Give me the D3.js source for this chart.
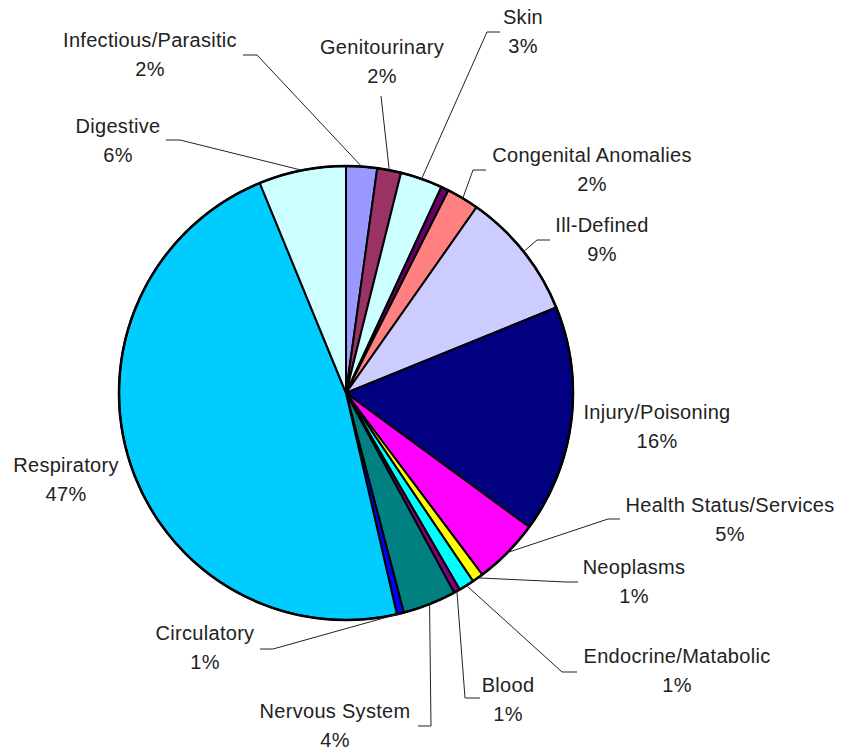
<!DOCTYPE html>
<html>
<head>
<meta charset="utf-8">
<script src="https://cdn.jsdelivr.net/npm/d3@7"></script>
<style>
  body { margin: 0; background: #fff; }
  text { font-family: "Liberation Sans", Arial, sans-serif; font-size: 20px; fill: #222; letter-spacing: 0.3px; }
</style>
</head>
<body>
<div id="chart"></div>
<script>
// categories, clockwise from 12 o'clock
var categories = ["Infectious/Parasitic", "Genitourinary", "Skin", "", "Congenital Anomalies",
  "Ill-Defined", "Injury/Poisoning", "Health Status/Services", "Neoplasms", "Endocrine/Matabolic",
  "Blood", "Nervous System", "Circulatory", "Respiratory", "Digestive"];
var shares = [2.2, 1.7, 3.0, 0.55, 2.3, 9.1, 16.2, 4.7, 0.8, 1.1, 0.45, 3.8, 0.5, 47.4, 6.2];
var pctLabels = ["2%", "2%", "3%", "", "2%", "9%", "16%", "5%", "1%", "1%", "1%", "4%", "1%", "47%", "6%"];
var colors = ["#9999FF", "#993366", "#CCFFFF", "#660066", "#FF8080", "#CCCCFF", "#000080", "#FF00FF",
  "#FFFF00", "#00FFFF", "#800080", "#008080", "#0000FF", "#00CCFF", "#CCFFFF"];

// label layout: text centre x, first baseline y, leader [x1, y1, x2] (null = no leader)
var labelPos = [
  [150, 47, [243, 55, 257]],
  [382, 54, [381, 96, 381]],
  [523, 24, [500, 32, 487]],
  null,
  [592, 162, [486, 170, 473]],
  [602, 232, [550, 240, 537]],
  [657, 419, null],
  [730, 512, [620, 519, 608]],
  [634, 574, [578, 582, 566]],
  [677, 663, [577, 672, 562]],
  [508, 692, [480, 698, 465]],
  [335, 718, [418, 726, 431]],
  [205, 640, [260, 649, 273]],
  [66, 472, null],
  [118, 133, [166, 140, 180]]
];

var W = 845, H = 754;
var cx = 346, cy = 393, r = 227;

var svg = d3.select("#chart").append("svg")
  .attr("width", W)
  .attr("height", H);

var pie = d3.pie().sort(null).value(function(d) { return d; });
var arcs = pie(shares);

var arc = d3.arc().innerRadius(0).outerRadius(r);
var edge = d3.arc().innerRadius(r).outerRadius(r);

var g = svg.append("g").attr("transform", "translate(" + cx + "," + cy + ")");

g.selectAll("path.slice")
  .data(arcs)
  .enter().append("path")
  .attr("class", "slice")
  .attr("d", arc)
  .style("fill", function(d, i) { return colors[i]; })
  .style("stroke", "#000")
  .style("stroke-width", 2)
  .style("stroke-linejoin", "round");

// outer rim
g.append("circle")
  .attr("r", r)
  .style("fill", "none")
  .style("stroke", "#000")
  .style("stroke-width", 2.5);

// leader lines
arcs.forEach(function(d, i) {
  var lp = labelPos[i];
  if (!lp || !lp[2]) return;
  var p = edge.centroid(d);
  var pts = [[lp[2][0], lp[2][1]], [lp[2][2], lp[2][1]], [p[0] + cx, p[1] + cy]];
  svg.append("path")
    .attr("d", d3.line()(pts))
    .style("fill", "none")
    .style("stroke", "#222")
    .style("stroke-width", 1);
});

// labels
arcs.forEach(function(d, i) {
  var lp = labelPos[i];
  if (!lp) return;
  var t = svg.append("text").attr("text-anchor", "middle");
  t.append("tspan").attr("x", lp[0]).attr("y", lp[1]).text(categories[i]);
  t.append("tspan").attr("x", lp[0]).attr("y", lp[1] + 29).text(pctLabels[i]);
});
</script>
</body>
</html>
